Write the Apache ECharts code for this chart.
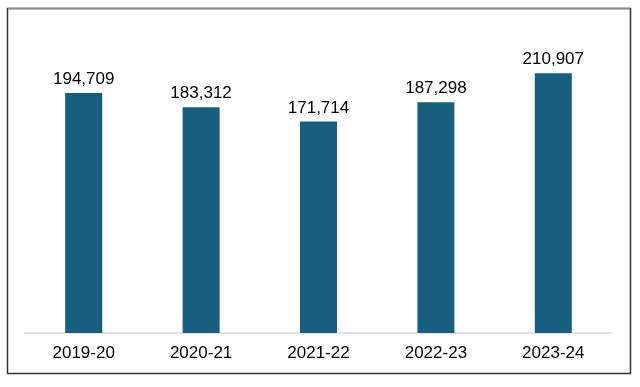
<!DOCTYPE html>
<html><head><meta charset="utf-8">
<script src="https://cdn.jsdelivr.net/npm/echarts@6/dist/echarts.min.js"></script>
<style>html,body{margin:0;padding:0;background:#fff;}#c{width:640px;height:387px;}</style>
</head><body><div id="c"></div>
<script>
const categories = ['2019-20','2020-21','2021-22','2022-23','2023-24'];
const values = [194709, 183312, 171714, 187298, 210907];

const chart = echarts.init(document.getElementById('c'), null, {renderer:'canvas'});
chart.setOption({
  animation:false,
  backgroundColor:'#fff',
  grid:{left:25,right:28,top:25,bottom:54},
  graphic:[
    {type:'rect',shape:{x:7.5,y:8.5,width:623,height:365},style:{fill:'none',stroke:'#333',lineWidth:1.5},z:100},
    {type:'line',shape:{x1:8,y1:8.5,x2:630,y2:8.5},style:{stroke:'#8a8a8a',lineWidth:1.5},z:101}
  ],
  xAxis:{type:'category',data:categories,
    axisLine:{lineStyle:{color:'#d9d9d9',width:1.5}},
    axisTick:{show:false},
    axisLabel:{color:'#000',fontSize:17,fontFamily:'Liberation Sans, Arial, sans-serif',margin:12}},
  yAxis:{type:'value',min:0,max:250000,show:false,splitLine:{show:false}},
  series:[{type:'bar',data:values,barWidth:37,
    itemStyle:{color:'#175e7f'},
    label:{show:true,position:'top',distance:5,color:'#000',fontSize:17,fontFamily:'Liberation Sans, Arial, sans-serif',
      formatter:p=>p.value.toLocaleString('en-US')}}]
});
</script></body></html>
